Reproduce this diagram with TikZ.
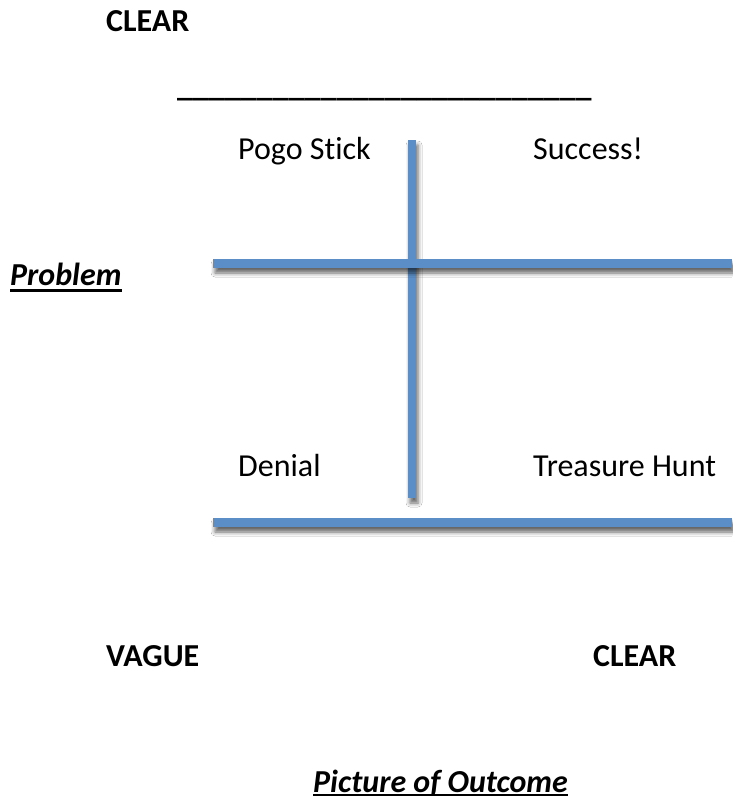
\documentclass[tikz,border=0pt]{standalone}
\usepackage{fontspec}
\setmainfont{Carlito}[Ligatures=NoCommon]
\usetikzlibrary{shadows.blur}
\definecolor{axisblue}{HTML}{5B8EC6}
\begin{document}
\begin{tikzpicture}[x=1pt,y=-1pt,
  lbl/.style={anchor=base west,inner sep=0pt,font=\fontsize{32}{38}\selectfont},
  bold/.style={lbl,font=\fontsize{32}{38}\selectfont\bfseries},
  bolditalic/.style={lbl,font=\fontsize{32}{38}\selectfont\bfseries\itshape},
  uline/.style={line width=2.6pt,line cap=butt},
  axis/.style={fill=axisblue,draw=none,
    blur shadow={shadow xshift=2pt,shadow yshift=-5pt,shadow blur radius=4pt,shadow opacity=60}}]
\useasboundingbox[fill=white] (0,0) rectangle (732,799);
% grid bars: the upright bar first, so the shadows of the cross bars fall on it
\fill[axis] (408,140) rectangle (416,498);
\fill[axis] (213,518) rectangle (732,527);
\fill[axis] (213,259) rectangle (732,268);
% headings
\node[bold] (topclear) at (106,32) {CLEAR};
\node[bold] (blank) at (177,97) {\_\_\_\_\_\_\_\_\_\_\_\_\_\_\_\_\_\_\_\_\_\_\_\_\_\_};
\node[bolditalic] (problem) at (10,285) {Problem};
\draw[uline] ([yshift=-5.5pt]problem.base west) -- ([yshift=-5.5pt]problem.base east);
% quadrants
\node[lbl] (pogo) at (238,160) {Pogo Stick};
\node[lbl] (success) at (533,160) {Success!};
\node[lbl] (denial) at (238,476) {Denial};
\node[lbl] (treasure) at (533,476) {Treasure Hunt};
% bottom scale
\node[bold] (vague) at (106,666) {VAGUE};
\node[bold] (botclear) at (593,666) {CLEAR};
\node[bolditalic] (outcome) at (313,792) {Picture of Outcome};
\draw[uline] ([yshift=-3pt]outcome.base west) -- ([yshift=-3pt]outcome.base east);
\end{tikzpicture}
\end{document}
